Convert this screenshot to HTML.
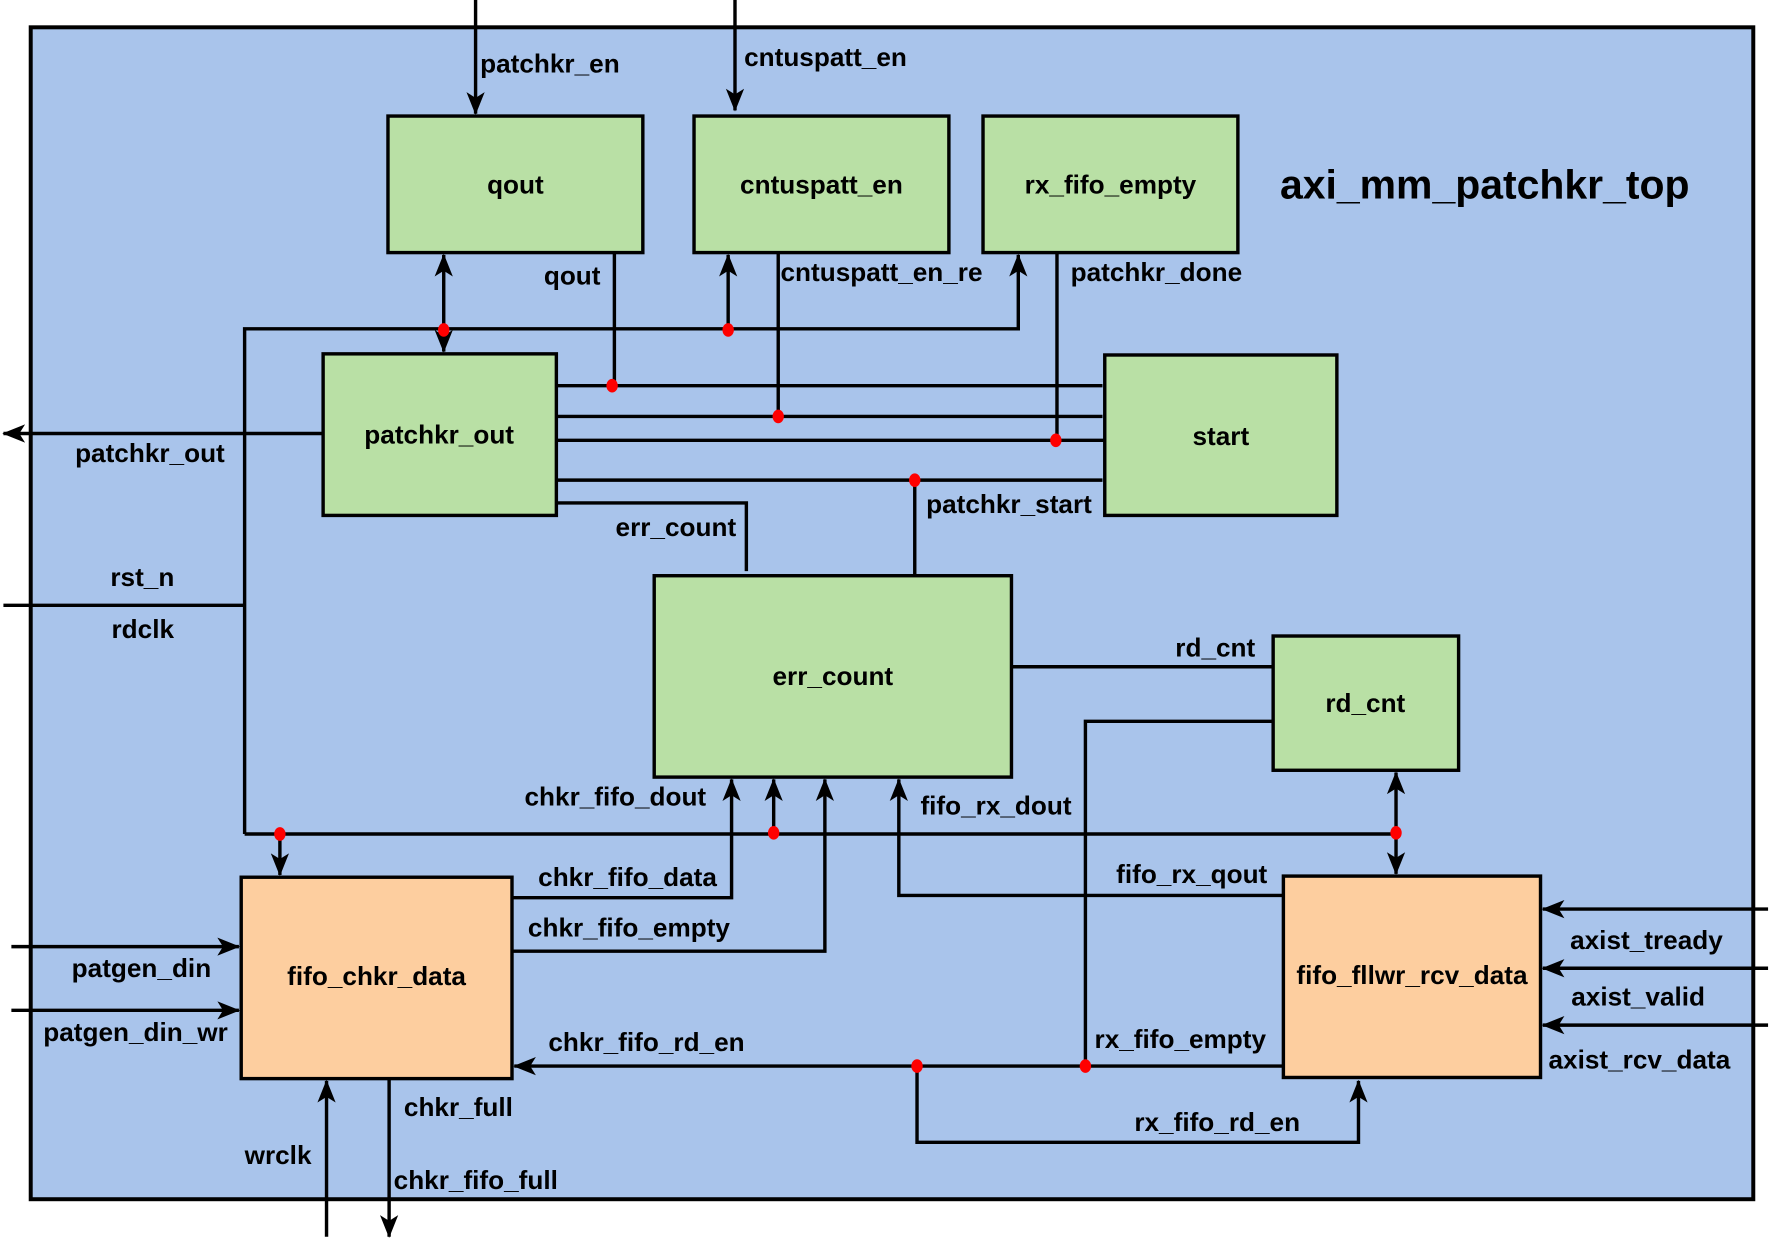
<!DOCTYPE html>
<html><head><meta charset="utf-8"><style>
html,body{margin:0;padding:0;background:#fff;}
svg{display:block;}
text{font-family:"Liberation Sans",Arial,sans-serif;font-weight:bold;font-size:23px;fill:#000;}
</style></head><body>
<svg width="1784" height="1242" viewBox="0 0 1568 1091.6" preserveAspectRatio="none" xmlns="http://www.w3.org/2000/svg">
<defs>
<marker id="a" viewBox="0 0 20 20" refX="19" refY="10" markerWidth="20" markerHeight="20" markerUnits="userSpaceOnUse" orient="auto-start-reverse">
<path d="M0,2 L20,10 L0,18 L5,10 Z" fill="#000"/>
</marker>
</defs>
<rect x="27" y="24" width="1514" height="1030" fill="#A9C4EB" stroke="#000" stroke-width="3.5"/>
<g fill="#B9E0A5" stroke="#000" stroke-width="3">
<rect x="341" y="102" width="224" height="120"/>
<rect x="610" y="102" width="224" height="120"/>
<rect x="864" y="102" width="224" height="120"/>
<rect x="284" y="311" width="205" height="142"/>
<rect x="971" y="312" width="204" height="141"/>
<rect x="575" y="506" width="314" height="177"/>
<rect x="1119" y="559" width="163" height="118"/>
</g>
<g fill="#FDCE9F" stroke="#000" stroke-width="3">
<rect x="212" y="771" width="238" height="177"/>
<rect x="1128" y="770" width="226" height="177"/>
</g>
<g fill="none" stroke="#000" stroke-width="3">
<path d="M418,0 V100" marker-end="url(#a)"/>
<path d="M646,0 V97" marker-end="url(#a)"/>
<path d="M390,224 V309" marker-start="url(#a)" marker-end="url(#a)"/>
<path d="M215,733 V289 H895 V224" marker-end="url(#a)"/>
<path d="M640,290 V224" marker-end="url(#a)"/>
<path d="M215,733 H1227"/>
<path d="M246,733 V769" marker-end="url(#a)"/>
<path d="M680,732 V685" marker-end="url(#a)"/>
<path d="M1227,679 V768" marker-start="url(#a)" marker-end="url(#a)"/>
<path d="M3,532 H215"/>
<path d="M284,381 H3" marker-end="url(#a)"/>
<path d="M540,222 V339"/>
<path d="M489,339 H969"/>
<path d="M490,366 H969"/>
<path d="M490,387 H971"/>
<path d="M489,422 H969"/>
<path d="M684,222 V366"/>
<path d="M929,222 V387"/>
<path d="M804,422 V505"/>
<path d="M490,442 H656 V502"/>
<path d="M889,586 H1119"/>
<path d="M1119,634 H954 V937"/>
<path d="M1128,937 H452" marker-end="url(#a)"/>
<path d="M806,937 V1004 H1194 V950" marker-end="url(#a)"/>
<path d="M1128,787 H790 V685" marker-end="url(#a)"/>
<path d="M450,789 H643 V685" marker-end="url(#a)"/>
<path d="M450,836 H725 V685" marker-end="url(#a)"/>
<path d="M10,832 H210" marker-end="url(#a)"/>
<path d="M10,888 H210" marker-end="url(#a)"/>
<path d="M287,1087 V950" marker-end="url(#a)"/>
<path d="M342,948 V1087" marker-end="url(#a)"/>
<path d="M1554,799 H1356" marker-end="url(#a)"/>
<path d="M1554,851 H1356" marker-end="url(#a)"/>
<path d="M1554,901 H1356" marker-end="url(#a)"/>
</g>
<g fill="#f00">
<ellipse cx="390" cy="290" rx="5" ry="6"/>
<ellipse cx="640" cy="290" rx="5" ry="6"/>
<ellipse cx="538" cy="339" rx="5" ry="6"/>
<ellipse cx="684" cy="366" rx="5" ry="6"/>
<ellipse cx="928" cy="387" rx="5" ry="6"/>
<ellipse cx="804" cy="422" rx="5" ry="6"/>
<ellipse cx="246" cy="733" rx="5" ry="6"/>
<ellipse cx="680" cy="732" rx="5" ry="6"/>
<ellipse cx="1227" cy="732" rx="5" ry="6"/>
<ellipse cx="806" cy="937" rx="5" ry="6"/>
<ellipse cx="954" cy="937" rx="5" ry="6"/>
</g>
<g dominant-baseline="central">
<text x="453" y="162" text-anchor="middle">qout</text>
<text x="722" y="162" text-anchor="middle">cntuspatt_en</text>
<text x="976" y="162" text-anchor="middle">rx_fifo_empty</text>
<text x="1125" y="162" style="font-size:36px">axi_mm_patchkr_top</text>
<text x="386" y="382" text-anchor="middle">patchkr_out</text>
<text x="1073" y="383" text-anchor="middle">start</text>
<text x="732" y="594" text-anchor="middle">err_count</text>
<text x="1200" y="618" text-anchor="middle">rd_cnt</text>
<text x="331" y="858" text-anchor="middle">fifo_chkr_data</text>
<text x="1241" y="857" text-anchor="middle">fifo_fllwr_rcv_data</text>
<text x="422" y="56">patchkr_en</text>
<text x="654" y="50">cntuspatt_en</text>
<text x="478" y="242">qout</text>
<text x="686" y="239">cntuspatt_en_re</text>
<text x="941" y="239">patchkr_done</text>
<text x="66" y="398">patchkr_out</text>
<text x="814" y="443">patchkr_start</text>
<text x="541" y="463">err_count</text>
<text x="97" y="507">rst_n</text>
<text x="98" y="553">rdclk</text>
<text x="1033" y="569">rd_cnt</text>
<text x="461" y="700">chkr_fifo_dout</text>
<text x="809" y="708">fifo_rx_dout</text>
<text x="981" y="768">fifo_rx_qout</text>
<text x="473" y="771">chkr_fifo_data</text>
<text x="464" y="815">chkr_fifo_empty</text>
<text x="63" y="851">patgen_din</text>
<text x="38" y="907">patgen_din_wr</text>
<text x="482" y="916">chkr_fifo_rd_en</text>
<text x="962" y="913">rx_fifo_empty</text>
<text x="355" y="973">chkr_full</text>
<text x="997" y="986">rx_fifo_rd_en</text>
<text x="215" y="1015">wrclk</text>
<text x="346" y="1037">chkr_fifo_full</text>
<text x="1380" y="826">axist_tready</text>
<text x="1381" y="876">axist_valid</text>
<text x="1361" y="931">axist_rcv_data</text>
</g>
</svg>
</body></html>
